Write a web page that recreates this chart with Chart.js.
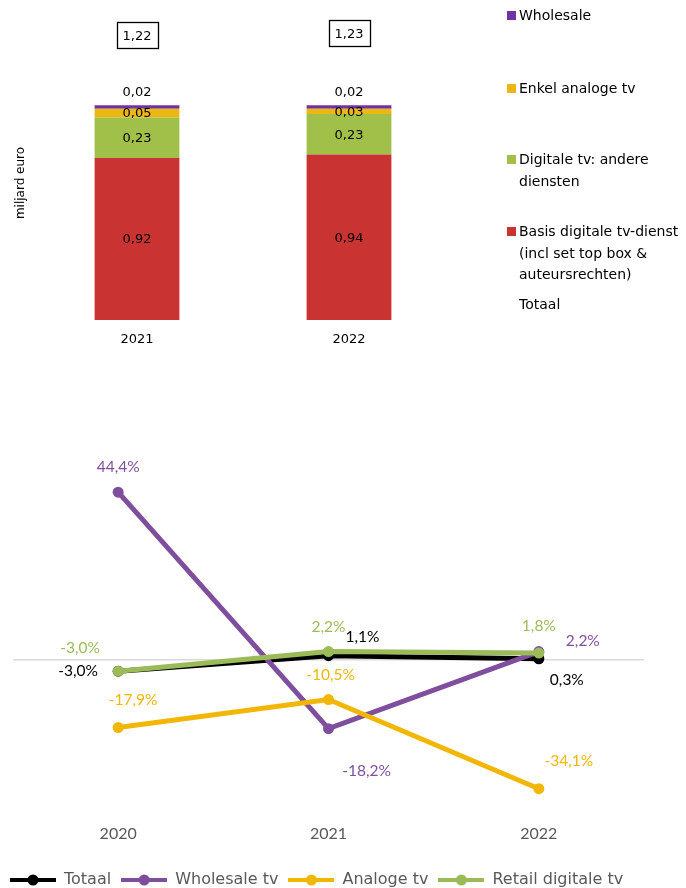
<!DOCTYPE html>
<html><head><meta charset="utf-8">
<script src="https://cdn.jsdelivr.net/npm/chart.js@4"></script>
<style>
html,body{margin:0;padding:0;background:#fff;overflow:hidden;}
#wrap{position:relative;width:686px;height:888px;overflow:hidden;background:#fff;}
#c1wrap{position:absolute;left:0;top:0;width:470px;height:360px;}
#c2wrap{position:absolute;left:0;top:440px;width:686px;height:458px;}
#leg1{position:absolute;left:0;top:0;width:686px;height:360px;pointer-events:none;}
.li{position:absolute;left:507px;font:14px "DejaVu Sans",sans-serif;color:#000;line-height:21.5px;}
.li .sq{position:absolute;left:0;top:6px;width:9px;height:9px;}
.li .tx{position:absolute;left:12px;top:0;white-space:nowrap;}
</style>
</head><body>
<div id="wrap">
  <div id="c1wrap"><canvas id="c1" width="470" height="360"></canvas></div>
  <div id="leg1"></div>
  <div id="c2wrap"><canvas id="c2" width="686" height="458"></canvas></div>
</div>
<script>
// ---- Top chart data (miljard euro) ----
const barYears = ['2021', '2022'];
const basisDigitale = [0.92, 0.94];
const digitaleAndere = [0.23, 0.23];
const enkelAnaloog = [0.05, 0.03];
const wholesale = [0.02, 0.02];
const totaal = [1.22, 1.23];
const barSeriesNames = ['Basis digitale tv-dienst (incl set top box & auteursrechten)', 'Digitale tv: andere diensten', 'Enkel analoge tv', 'Wholesale'];
const barAxisTitle = 'miljard euro';

// ---- Bottom chart data (groei %) ----
const lineYears = ['2020', '2021', '2022'];
const totaalGroei = [-3.0, 1.1, 0.3];
const wholesaleGroei = [44.4, -18.2, 2.2];
const analoogGroei = [-17.9, -10.5, -34.1];
const retailGroei = [-3.0, 2.2, 1.8];
const lineSeriesNames = ['Totaal', 'Wholesale tv', 'Analoge tv', 'Retail digitale tv'];

const C = {
  red: '#C93433', green: '#A1C04A', yellow: '#EDB712', purple: '#7132A2',
  lBlack: '#000000', lPurple: '#7F4F9D', lYellow: '#F2B705', lGreen: '#9BBB59'
};

function fmt(v, d) { return v.toFixed(d).replace('.', ','); }

// ---------- HTML legend for top chart ----------
const legItems = [
  { lines: ['Wholesale'], color: C.purple, top: 5 },
  { lines: ['Enkel analoge tv'], color: C.yellow, top: 78 },
  { lines: ['Digitale tv: andere', 'diensten'], color: C.green, top: 149 },
  { lines: ['Basis digitale tv-dienst', '(incl set top box &', 'auteursrechten)'], color: C.red, top: 221 },
  { lines: ['Totaal'], color: null, top: 294 }
];
const leg1 = document.getElementById('leg1');
legItems.forEach(it => {
  const d = document.createElement('div');
  d.className = 'li'; d.style.top = it.top + 'px';
  if (it.color) {
    const s = document.createElement('div'); s.className = 'sq'; s.style.background = it.color; d.appendChild(s);
  }
  const t = document.createElement('div'); t.className = 'tx';
  t.innerHTML = it.lines.map(l => l.replace(/&/g, '&amp;')).join('<br>');
  d.appendChild(t);
  leg1.appendChild(d);
});

// ---------- Top stacked bar chart ----------
const barLabelPlugin = {
  id: 'barLabels',
  afterDatasetsDraw(chart) {
    const ctx = chart.ctx, ys = chart.scales.y;
    ctx.save();
    ctx.font = '13px "DejaVu Sans", sans-serif';
    ctx.fillStyle = '#000'; ctx.textAlign = 'center'; ctx.textBaseline = 'middle';
    chart.data.datasets.forEach((ds, di) => {
      const meta = chart.getDatasetMeta(di);
      meta.data.forEach((bar, i) => {
        const txt = fmt(ds.data[i], 2);
        if (ds.labelAbove) ctx.fillText(txt, bar.x, bar.y - 13);
        else ctx.fillText(txt, bar.x, (bar.y + bar.base) / 2 + 1);
      });
    });
    const topMeta = chart.getDatasetMeta(chart.data.datasets.length - 1);
    totaal.forEach((t, i) => {
      const x = topMeta.data[i].x;
      const y = ys.getPixelForValue(t) - 70;
      ctx.lineWidth = 1.3; ctx.strokeStyle = '#000';
      ctx.strokeRect(Math.round(x - 20.5) + 0.5, Math.round(y - 13) + 0.5, 41, 26);
      ctx.fillText(fmt(t, 2), x, y + 1);
    });
    // axis title (rotated)
    ctx.font = '12px "DejaVu Sans", sans-serif';
    ctx.translate(21, 183);
    ctx.rotate(-Math.PI / 2);
    ctx.fillText(barAxisTitle, 0, 0);
    ctx.restore();
  }
};

new Chart(document.getElementById('c1'), {
  type: 'bar',
  data: {
    labels: barYears,
    datasets: [
      { label: barSeriesNames[0], data: basisDigitale, backgroundColor: C.red },
      { label: barSeriesNames[1], data: digitaleAndere, backgroundColor: C.green },
      { label: barSeriesNames[2], data: enkelAnaloog, backgroundColor: C.yellow },
      { label: barSeriesNames[3], data: wholesale, backgroundColor: C.purple, labelAbove: true }
    ]
  },
  options: {
    responsive: false, animation: false,
    layout: { padding: { left: 11, right: 15, top: 3, bottom: 12 } },
    datasets: { bar: { categoryPercentage: 1, barPercentage: 0.4, borderWidth: 0 } },
    plugins: { legend: { display: false }, tooltip: { enabled: false } },
    scales: {
      x: {
        stacked: true,
        grid: { display: false, drawTicks: false }, border: { display: false },
        ticks: { color: '#000', padding: 12, font: { family: 'DejaVu Sans', size: 13 } },
        afterFit(s) { s.height = 28; }
      },
      y: {
        stacked: true, min: 0, max: 1.8,
        grid: { display: false, drawTicks: false }, border: { display: false },
        ticks: { display: false },
        afterFit(s) { s.width = 20; }
      }
    }
  },
  plugins: [barLabelPlugin]
});

// ---------- Bottom line chart ----------
function legendIcon(color) {
  const c = document.createElement('canvas'); c.width = 46; c.height = 14;
  const g = c.getContext('2d');
  g.strokeStyle = color; g.lineWidth = 4;
  g.beginPath(); g.moveTo(0, 7); g.lineTo(46, 7); g.stroke();
  g.fillStyle = color; g.beginPath(); g.arc(23, 7, 5.5, 0, Math.PI * 2); g.fill();
  return c;
}

const lineLabelPlugin = {
  id: 'lineLabels',
  afterDatasetsDraw(chart, args, opts) {
    const ctx = chart.ctx;
    ctx.save();
    ctx.font = '15.5px Lato, sans-serif';
    ctx.textAlign = 'center'; ctx.textBaseline = 'middle';
    chart.data.datasets.forEach((ds, di) => {
      const meta = chart.getDatasetMeta(di);
      const offs = opts.offsets[di];
      ctx.fillStyle = ds.labelColor;
      meta.data.forEach((pt, i) => {
        ctx.fillText(fmt(ds.data[i], 1) + '%', pt.x + offs[i][0], pt.y + offs[i][1]);
      });
    });
    ctx.restore();
  }
};

const lineColors = [C.lBlack, C.lPurple, C.lYellow, C.lGreen];
const lineData = [totaalGroei, wholesaleGroei, analoogGroei, retailGroei];
const drawOrder = [3, 2, 1, 0];

new Chart(document.getElementById('c2'), {
  type: 'line',
  data: {
    labels: lineYears,
    datasets: lineData.map((d, i) => ({
      label: lineSeriesNames[i], data: d,
      borderColor: lineColors[i], backgroundColor: lineColors[i],
      pointBackgroundColor: lineColors[i], pointBorderColor: lineColors[i],
      labelColor: lineColors[i],
      borderWidth: 5, pointRadius: 5.5, pointBorderWidth: 0, tension: 0, fill: false,
      order: drawOrder[i]
    }))
  },
  options: {
    responsive: false, animation: false,
    layout: { padding: { left: 0, right: 0, top: 31, bottom: 0 } },
    plugins: {
      tooltip: { enabled: false },
      legend: {
        position: 'bottom', align: 'start',
        labels: {
          usePointStyle: true, pointStyleWidth: 46, padding: 10,
          color: '#595959', font: { family: 'DejaVu Sans', size: 16 },
          generateLabels(chart) {
            return chart.data.datasets.map((ds, i) => ({
              text: ds.label, fillStyle: ds.borderColor, strokeStyle: ds.borderColor,
              lineWidth: 0, pointStyle: legendIcon(ds.borderColor), hidden: false,
              datasetIndex: i, fontColor: '#595959'
            }));
          }
        }
      },
      lineLabels: {
        offsets: [
          [[-40, 0], [34, -19], [28, 21]],
          [[0, -25], [38, 42], [44, -11]],
          [[15, -28], [2, -25], [30, -28]],
          [[-38, -23], [0, -25], [0, -27]]
        ]
      }
    },
    scales: {
      x: {
        offset: true,
        grid: { display: false, drawTicks: false }, border: { display: false },
        ticks: { color: '#595959', padding: 13, font: { family: 'Lato', size: 16 } },
        afterFit(s) { s.height = 51; }
      },
      y: {
        min: -40, max: 50,
        ticks: { display: false, stepSize: 10 },
        border: { display: false },
        grid: { drawTicks: false, lineWidth: 1.5, color: c => (c.tick && c.tick.value === 0) ? '#D9D9D9' : 'rgba(0,0,0,0)' },
        afterFit(s) { s.width = 13; }
      },
      y2: {
        position: 'right', display: true,
        ticks: { display: false }, grid: { display: false, drawTicks: false }, border: { display: false },
        afterFit(s) { s.width = 42; }
      }
    }
  },
  plugins: [lineLabelPlugin]
});
</script>
</body></html>
